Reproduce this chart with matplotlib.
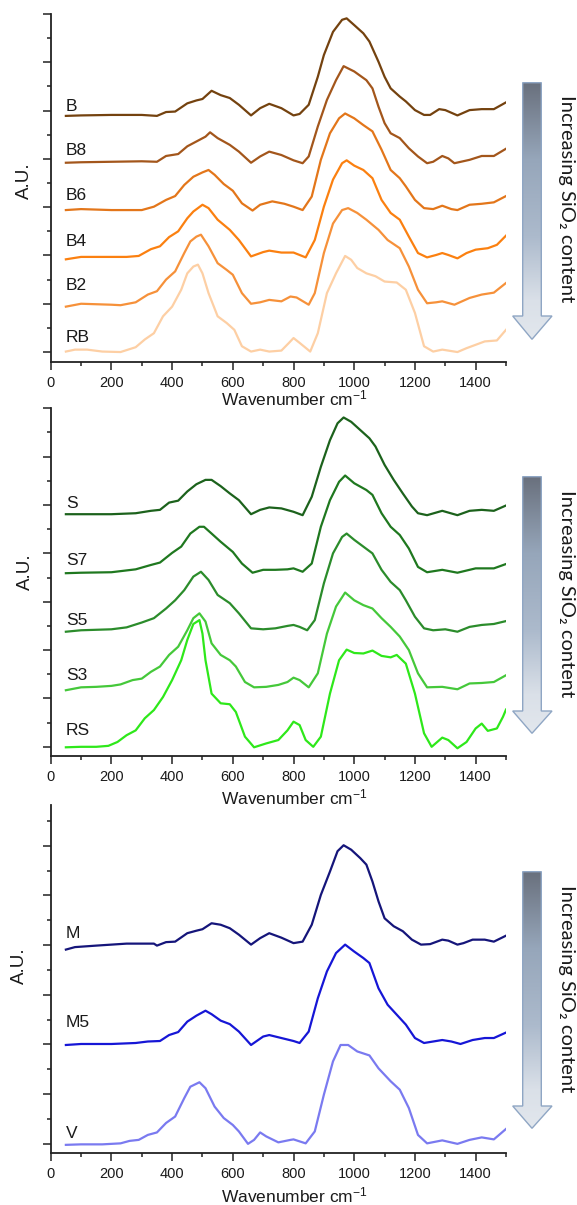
import numpy as np
import matplotlib
matplotlib.use("Agg")
import matplotlib.pyplot as plt
from matplotlib.patches import Polygon
from matplotlib.ticker import MultipleLocator

plt.rcParams['font.family'] = ['Liberation Sans', 'DejaVu Sans']
plt.rcParams['mathtext.fontset'] = 'custom'
plt.rcParams['mathtext.rm'] = 'Liberation Sans'
plt.rcParams['mathtext.it'] = 'Liberation Sans:italic'
plt.rcParams['mathtext.bf'] = 'Liberation Sans:bold'

# ---------------- Panel 1 (B series) ----------------
wn_B = [50,100,200,300,350,380,410,450,480,500,530,560,590,620,660,690,720,760,800,820,850,880,900,930,960,975,1000,1030,1050,1080,1100,1120,1150,1170,1200,1230,1250,1280,1300,1340,1380,1420,1460,1500]
B = [4.89,4.90,4.91,4.91,4.89,4.97,4.98,5.15,5.21,5.24,5.41,5.32,5.26,5.12,4.90,5.05,5.14,5.05,4.90,4.93,5.12,5.70,6.15,6.63,6.88,6.91,6.77,6.60,6.43,6.01,5.70,5.46,5.29,5.19,5.01,4.91,4.91,5.03,5.01,4.90,5.01,5.03,5.03,5.17]

wn_B8 = [50,100,200,300,350,380,420,450,480,510,525,550,590,620,660,690,720,760,800,830,850,880,910,940,965,1000,1040,1060,1080,1100,1120,1150,1180,1210,1240,1260,1290,1310,1330,1380,1420,1460,1500]
B8 = [3.92,3.93,3.94,3.95,3.94,4.06,4.10,4.26,4.36,4.46,4.55,4.43,4.29,4.15,3.92,4.05,4.15,4.08,3.97,3.91,4.05,4.67,5.22,5.63,5.92,5.81,5.63,5.46,5.08,4.74,4.53,4.43,4.22,4.05,3.91,3.94,4.06,4.01,3.91,3.98,4.06,4.06,4.21]

wn_B6 = [50,100,200,300,340,380,410,440,470,500,520,540,570,600,630,665,690,730,770,800,830,860,890,920,950,970,1000,1030,1060,1090,1120,1150,1170,1200,1230,1260,1290,1320,1340,1380,1420,1460,1500]
B6 = [2.94,2.96,2.94,2.94,3.01,3.15,3.23,3.46,3.63,3.72,3.77,3.67,3.48,3.34,3.08,2.93,3.05,3.12,3.07,3.01,2.94,3.22,3.98,4.53,4.84,4.94,4.84,4.70,4.57,4.19,3.77,3.60,3.43,3.15,2.98,2.96,3.03,2.96,2.94,3.05,3.07,3.10,3.23]

wn_B4 = [50,100,200,250,290,330,360,390,420,450,470,500,520,550,590,620,660,700,720,760,800,840,870,900,930,960,975,1000,1030,1060,1090,1120,1150,1180,1210,1240,1270,1290,1310,1340,1370,1400,1440,1470,1500]
B4 = [1.92,1.97,1.97,1.97,1.99,2.13,2.19,2.38,2.50,2.77,2.91,3.05,2.98,2.74,2.53,2.32,1.98,2.07,2.10,2.06,2.06,1.96,2.32,3.01,3.57,3.91,3.97,3.86,3.77,3.60,3.15,2.88,2.74,2.39,2.05,1.96,2.01,2.05,2.01,1.94,2.05,2.12,2.15,2.22,2.41]

wn_B2 = [50,100,150,200,230,280,320,350,380,410,440,460,480,495,520,550,580,600,630,660,690,720,760,790,810,850,870,900,930,960,980,1010,1040,1080,1110,1150,1180,1210,1240,1270,1290,1330,1380,1420,1460,1500]
B2 = [0.94,1.00,0.99,0.98,0.97,1.03,1.19,1.26,1.50,1.67,2.05,2.29,2.39,2.43,2.19,1.84,1.70,1.60,1.22,1.00,1.03,1.08,1.05,1.15,1.13,0.98,1.22,2.05,2.66,2.94,2.98,2.88,2.74,2.53,2.32,2.15,1.77,1.29,1.01,1.03,1.05,0.98,1.12,1.19,1.23,1.43]

wn_RB = [50,80,120,170,230,280,310,340,370,400,430,450,470,485,500,520,550,580,605,630,660,690,720,760,785,800,820,855,880,910,940,970,990,1010,1040,1070,1100,1140,1170,1200,1230,1260,1290,1340,1370,1400,1430,1470,1500]
RB = [0.01,0.05,0.05,0.01,0.00,0.10,0.26,0.39,0.74,0.94,1.29,1.63,1.77,1.81,1.63,1.22,0.74,0.60,0.46,0.12,0.01,0.05,0.01,0.03,0.19,0.29,0.19,0.01,0.39,1.22,1.63,1.99,1.91,1.74,1.63,1.57,1.46,1.44,1.29,0.81,0.12,0.01,0.05,0.00,0.08,0.15,0.22,0.24,0.46]

# ---------------- Panel 2 (S series) ----------------
wn_S = [50,100,200,280,330,360,390,420,450,480,510,530,560,590,620,660,690,720,760,800,830,860,890,920,945,965,990,1020,1050,1070,1100,1130,1160,1190,1210,1240,1290,1340,1380,1420,1460,1500]
S = [4.81,4.81,4.81,4.83,4.88,4.90,5.05,5.09,5.28,5.43,5.52,5.52,5.39,5.24,5.10,4.81,4.90,4.95,4.93,4.86,4.79,5.17,5.79,6.34,6.69,6.81,6.72,6.55,6.38,6.21,5.83,5.52,5.24,4.97,4.83,4.79,4.88,4.79,4.88,4.90,4.88,4.99]

wn_S7 = [50,100,200,280,330,360,400,430,460,490,505,530,560,600,630,665,700,740,780,800,830,860,890,920,950,970,1000,1040,1060,1090,1120,1150,1180,1210,1240,1290,1340,1400,1460,1500]
S7 = [3.59,3.60,3.61,3.67,3.76,3.81,4.01,4.14,4.41,4.55,4.55,4.41,4.24,4.03,3.79,3.60,3.66,3.66,3.67,3.69,3.62,3.79,4.55,5.10,5.48,5.61,5.45,5.31,5.21,4.83,4.55,4.38,4.10,3.72,3.61,3.66,3.60,3.69,3.69,3.78]

wn_S5 = [50,100,200,250,300,340,380,410,440,470,495,520,550,590,620,660,700,740,780,800,820,845,870,900,930,960,975,1000,1030,1060,1090,1120,1150,1170,1200,1230,1260,1300,1340,1380,1420,1460,1500]
S5 = [2.38,2.41,2.43,2.47,2.57,2.66,2.86,3.03,3.24,3.52,3.62,3.45,3.14,2.97,2.76,2.45,2.43,2.45,2.50,2.52,2.48,2.41,2.62,3.38,4.00,4.34,4.41,4.28,4.14,4.00,3.66,3.41,3.24,3.03,2.69,2.45,2.41,2.43,2.38,2.48,2.52,2.54,2.60]

wn_S3 = [50,100,150,200,230,270,300,330,360,390,420,450,470,490,510,530,560,590,610,640,670,710,750,780,800,820,850,880,910,940,970,1000,1030,1060,1090,1120,1150,1180,1210,1240,1290,1340,1380,1420,1460,1500]
S3 = [1.17,1.23,1.24,1.26,1.29,1.38,1.41,1.55,1.66,1.90,2.07,2.41,2.66,2.76,2.59,2.14,1.90,1.79,1.66,1.34,1.23,1.24,1.28,1.34,1.43,1.38,1.23,1.52,2.34,2.90,3.19,3.03,2.93,2.86,2.66,2.48,2.28,2.00,1.52,1.23,1.24,1.19,1.31,1.32,1.34,1.48]

wn_RS = [50,100,150,190,220,250,280,310,340,370,400,430,450,470,490,500,510,530,560,590,610,640,670,710,750,780,800,820,840,865,890,920,950,975,1000,1030,1060,1090,1120,1140,1170,1200,1230,1255,1290,1310,1340,1370,1400,1420,1440,1470,1490,1500]
RS = [-0.01,0.00,0.00,0.02,0.10,0.24,0.34,0.59,0.76,1.03,1.38,1.79,2.21,2.54,2.62,2.34,1.79,1.10,0.90,0.88,0.72,0.21,-0.01,0.07,0.14,0.34,0.52,0.45,0.14,0.00,0.21,1.10,1.79,2.01,1.94,1.93,1.99,1.88,1.85,1.90,1.72,1.10,0.28,0.00,0.19,0.14,-0.03,0.10,0.38,0.48,0.33,0.38,0.62,0.77]

# ---------------- Panel 3 (M / V series) ----------------
wn_M = [50,80,150,200,250,300,340,350,380,410,450,480,500,530,560,590,620,660,690,720,760,800,830,860,890,920,945,965,990,1020,1040,1060,1080,1100,1130,1160,1190,1220,1250,1290,1310,1340,1360,1390,1430,1460,1500]
M = [3.91,3.96,3.99,4.01,4.03,4.03,4.03,3.99,4.06,4.07,4.24,4.29,4.32,4.44,4.41,4.34,4.21,4.01,4.14,4.24,4.15,4.04,4.07,4.41,5.01,5.48,5.89,6.01,5.92,5.75,5.62,5.28,4.88,4.54,4.38,4.28,4.11,4.01,4.02,4.11,4.09,4.01,4.04,4.11,4.11,4.07,4.19]

wn_M5 = [50,100,200,280,320,360,390,420,450,480,510,530,560,590,620,660,700,720,760,800,820,850,880,910,940,970,1000,1030,1050,1080,1110,1140,1170,1200,1230,1260,1290,1320,1350,1390,1430,1460,1500]
M5 = [1.99,2.01,2.01,2.03,2.06,2.07,2.19,2.25,2.46,2.58,2.68,2.61,2.48,2.41,2.26,1.99,2.16,2.19,2.13,2.07,2.03,2.26,2.93,3.47,3.84,4.01,3.87,3.74,3.64,3.13,2.80,2.60,2.40,2.13,2.03,2.06,2.09,2.06,2.01,2.09,2.13,2.13,2.24]

wn_V = [50,100,170,230,260,290,320,350,380,410,440,460,490,510,540,570,600,620,650,670,690,710,750,790,800,840,870,900,930,955,980,1010,1050,1080,1120,1150,1180,1210,1240,1290,1340,1380,1420,1460,1500]
V = [-0.02,-0.01,-0.01,0.01,0.06,0.08,0.18,0.23,0.42,0.55,0.92,1.15,1.24,1.12,0.75,0.52,0.38,0.25,0.00,0.08,0.23,0.15,0.03,0.08,0.09,0.01,0.25,0.99,1.66,1.99,1.99,1.86,1.78,1.52,1.26,1.09,0.72,0.18,0.01,0.07,0.00,0.08,0.13,0.09,0.30]

names_1 = ["B", "B8", "B6", "B4", "B2", "RB"]
names_2 = ["S", "S7", "S5", "S3", "RS"]
names_3 = ["M", "M5", "V"]
xticks = [0, 200, 400, 600, 800, 1000, 1200, 1400]
arrow_text = "Increasing SiO\u2082 content"

series_1 = [(wn_B, B), (wn_B8, B8), (wn_B6, B6), (wn_B4, B4), (wn_B2, B2), (wn_RB, RB)]
series_2 = [(wn_S, S), (wn_S7, S7), (wn_S5, S5), (wn_S3, S3), (wn_RS, RS)]
series_3 = [(wn_M, M), (wn_M5, M5), (wn_V, V)]

colors_1 = ["#74420f", "#a3561b", "#e3761a", "#fb8010", "#f6913a", "#fdcfa4"]
colors_2 = ["#1c621c", "#1f781f", "#2b8c2b", "#45c83a", "#2ee81a"]
colors_3 = ["#15157a", "#1616d6", "#7a7af0"]

label_y_1 = [5.0, 4.08, 3.15, 2.2, 1.29, 0.21]
label_y_2 = [4.94, 3.76, 2.51, 1.38, 0.24]
label_y_3 = [4.14, 2.35, 0.12]

W, H = 577, 1205
fig = plt.figure(figsize=(W / 100, H / 100), dpi=100)

def px_axes(left, right, top, bottom):
    return [left / W, 1 - bottom / H, (right - left) / W, (bottom - top) / H]

panels = [
    (px_axes(50.7, 506.0, 14.0, 361.7), series_1, colors_1, names_1, label_y_1, (-0.2, 7.0), 7, (0.040, 0.52), -0.105),
    (px_axes(50.7, 506.0, 408.3, 756.0), series_2, colors_2, names_2, label_y_2, (-0.19, 7.0), 7, (0.036, 0.53), -0.118),
    (px_axes(50.7, 506.0, 805.0, 1153.3), series_3, colors_3, names_3, label_y_3, (-0.19, 6.82), 6, (0.050, 0.54), -0.12),
]

for rect, series, cols, names, ly, ylim, ymax, ylab, xlab_y in panels:
    ax = fig.add_axes(rect)
    for (x, y), c in zip(series, cols):
        ax.plot(x, y, color=c, lw=1.6, solid_joinstyle='round')
    for n, yy in zip(names, ly):
        ax.text(50, yy, n, fontsize=12.5, color="#1a1a1a", va='baseline', ha='left')
    ax.set_xlim(0, 1500)
    ax.set_ylim(*ylim)
    ax.set_xticks(xticks)
    ax.xaxis.set_minor_locator(MultipleLocator(100))
    ax.set_yticks(np.arange(0, ymax + 1))
    ax.yaxis.set_minor_locator(MultipleLocator(0.5))
    ax.set_yticklabels([])
    ax.tick_params(axis='both', which='major', direction='out', length=6, width=1.1, labelsize=10.5, pad=4, color='#222222', labelcolor='#1a1a1a')
    ax.tick_params(axis='both', which='minor', direction='out', length=3, width=1.1, color='#222222')
    for s in ['top', 'right']:
        ax.spines[s].set_visible(False)
    for s in ['left', 'bottom']:
        ax.spines[s].set_linewidth(1.3)
        ax.spines[s].set_color('#222222')
    ax.set_ylabel("A.U.", fontsize=13.5, color="#1a1a1a")
    ax.yaxis.set_label_coords(-ylab[0], ylab[1])
    ax.set_xlabel("Wavenumber cm$^{-1}$", fontsize=12.5, color="#1a1a1a")
    ax.xaxis.set_label_coords(0.535, xlab_y)
    ax.xaxis.label.set_va('center')

# ---------- gradient arrows with text ----------
ov = fig.add_axes([0, 0, 1, 1], zorder=-1)
ov.set_xlim(0, W)
ov.set_ylim(H, 0)
ov.axis('off')

grad_cols = np.array([
    [0.00, 105, 112, 125],
    [0.30, 150, 166, 186],
    [0.60, 172, 186, 204],
    [0.85, 218, 224, 232],
    [1.00, 226, 231, 237],
])
tt = np.linspace(0, 1, 256)
grad = np.stack([np.interp(tt, grad_cols[:, 0], grad_cols[:, k]) for k in (1, 2, 3)], axis=1) / 255.0
grad_img = grad[:, None, :]

arrows = [(82.7, 316.0, 339.3, 199.0), (476.7, 711.0, 733.3, 594.0), (871.7, 1106.0, 1128.3, 989.0)]
sl, sr, hl, hr, tipx = 522.7, 541.3, 512.7, 552.0, 532.0
for top, head, tip, tcy in arrows:
    verts = [(sl, top), (sr, top), (sr, head), (hr, head), (tipx, tip), (hl, head), (sl, head)]
    poly = Polygon(verts, closed=True, facecolor='none', edgecolor='#8fa6c4', lw=1.0, zorder=3)
    ov.add_patch(poly)
    im = ov.imshow(grad_img, extent=(hl, hr, tip, top), origin='upper', aspect='auto', zorder=2)
    im.set_clip_path(poly)
    ov.text(566, tcy, arrow_text, rotation=-90, ha='center', va='center', fontsize=14.5,
            family=['Lato', 'DejaVu Sans'], color='#1a1a1a')

fig.savefig("out.png", dpi=100)
